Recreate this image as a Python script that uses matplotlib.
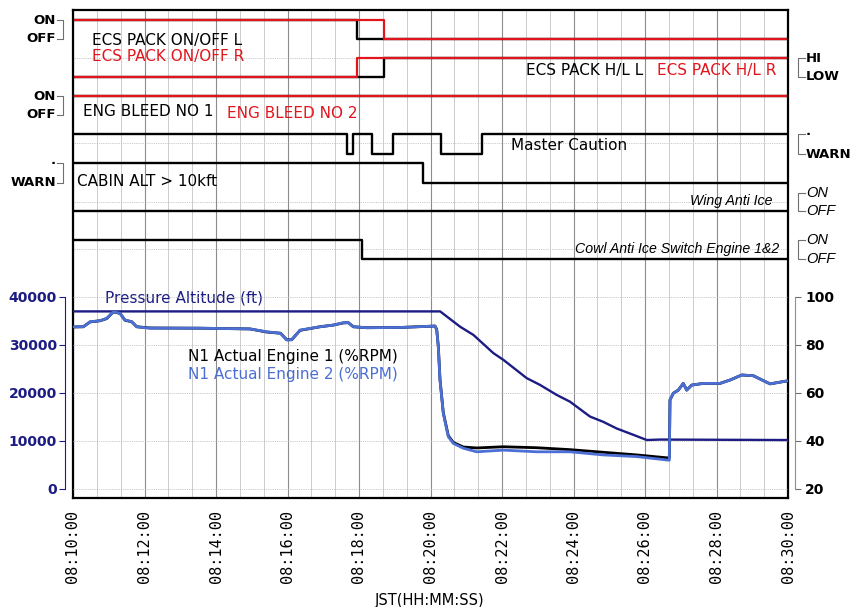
import matplotlib.pyplot as plt
from matplotlib.ticker import MultipleLocator, FuncFormatter

# x axis: minutes after 08:00 JST
t_start, t_end = 10, 30

# --- discrete signals: time of each change (min) and the state from then on
ecs_onoff_l_t = [10.0, 17.95]
ecs_onoff_l = [1, 0]
ecs_onoff_r_t = [10.0, 18.69]
ecs_onoff_r = [1, 0]
ecs_hl_l_t = [10.0, 18.70]
ecs_hl_l = [0, 1]
ecs_hl_r_t = [10.0, 17.95]
ecs_hl_r = [0, 1]
bleed_1_t = [10.0]
bleed_1 = [1]
bleed_2_t = [10.0]
bleed_2 = [1]
master_caution_t = [10.0, 17.66, 17.84, 18.36, 18.95, 20.29, 21.43]
master_caution = [0, 1, 0, 1, 0, 1, 0]
cabin_alt_t = [10.0, 19.80]
cabin_alt = [0, 1]
wing_anti_ice_t = [10.0]
wing_anti_ice = [0]
cowl_anti_ice_t = [10.0, 18.08]
cowl_anti_ice = [1, 0]

# --- pressure altitude (ft)
alt_t = [10.0, 20.27, 20.83, 21.2, 21.76, 22.04, 22.69, 23.06, 23.53, 23.90,
         24.46, 24.83, 25.21, 25.67, 26.05, 26.42, 30.0]
alt_ft = [37000, 37000, 33800, 32100, 28300, 26900, 23100, 21700, 19600, 18200,
          15100, 14000, 12600, 11300, 10200, 10300, 10200]

# --- N1 (%RPM), both engines sampled at the same times
n1_t = [10.0, 10.288, 10.476, 10.755, 10.943, 11.127, 11.315, 11.455, 11.642, 11.782,
        12.154, 13.552, 14.951, 15.418, 15.804, 15.978, 16.118, 16.350, 16.909, 17.281,
        17.561, 17.701, 17.841, 18.215, 19.147, 20.126, 20.173, 20.218, 20.266, 20.358,
        20.498, 20.638, 20.917, 21.292, 22.036, 22.970, 23.902, 24.834, 25.768, 26.607,
        26.680, 26.699, 26.792, 26.931, 27.071, 27.167, 27.306, 27.631, 28.098, 28.378,
        28.705, 29.029, 29.497, 30.0]
n1_eng2 = [87.6, 87.6, 89.7, 90.1, 91.1, 93.9, 93.2, 90.4, 89.7, 87.6,
           87.0, 87.0, 86.7, 85.5, 84.9, 82.1, 82.2, 86.2, 87.6, 88.3,
           89.3, 89.3, 87.6, 87.2, 87.3, 87.9, 86.3, 79.3, 65.4, 51.5,
           41.8, 39.0, 37.0, 35.5, 36.2, 35.5, 35.5, 34.2, 33.5, 32.1,
           32.0, 57.1, 59.9, 61.2, 64.0, 61.2, 63.3, 64.0, 64.0, 65.4,
           67.5, 67.2, 63.8, 65.1]
n1_eng1 = [87.5, 87.6, 89.6, 90.1, 91.0, 93.8, 93.2, 90.3, 89.7, 87.6,
           87.1, 87.0, 86.7, 85.4, 84.9, 82.2, 82.2, 86.1, 87.6, 88.3,
           89.2, 89.3, 87.6, 87.2, 87.3, 87.9, 86.5, 79.5, 65.6, 51.8,
           42.2, 39.4, 37.5, 37.1, 37.6, 37.2, 36.4, 35.3, 34.2, 33.0,
           33.0, 57.1, 59.9, 61.2, 64.0, 61.2, 63.3, 64.0, 64.0, 65.4,
           67.5, 67.2, 63.8, 65.1]

red = '#e3151c'
navy = '#1c1c84'
blue = '#4b6fd4'
PX = 72 / 100  # points per pixel

fig = plt.figure(figsize=(8.51, 6.07), dpi=100)
rect = [73 / 851, 1 - 498 / 607, 715 / 851, 488 / 607]

# track axes, y in screen rows (top = 10, bottom = 498)
ax = fig.add_axes(rect)
ax.set_xlim(t_start, t_end)
ax.set_ylim(498, 10)
ax.set_yticks([])
for s in ax.spines.values():
    s.set_color('black')
    s.set_linewidth(1.6)

ax.xaxis.set_major_locator(MultipleLocator(2))
ax.xaxis.set_minor_locator(MultipleLocator(2 / 3))
ax.xaxis.set_major_formatter(FuncFormatter(lambda m, p: f"08:{m:02.0f}:00"))
ax.tick_params(axis='x', which='both', length=0, pad=12 * PX)
for lab in ax.get_xticklabels():
    lab.set_rotation(90)
    lab.set_fontfamily('DejaVu Sans Mono')
    lab.set_fontsize(11)
ax.grid(which='major', axis='x', color='#8c8c8c', lw=0.8)
ax.grid(which='minor', axis='x', color='#cccccc', lw=0.7)
dots = dict(color='#b8b8b8', lw=0.6, ls=(0, (1, 1.2)))
for r in [58, 143, 202, 249]:
    ax.axhline(r, zorder=0.5, **dots)


def trace(t, s, rows, **kw):
    x = list(t) + [t_end]
    y = [rows[v] for v in s] + [rows[s[-1]]]
    ax.step(x, y, where='post', **kw)


blk = dict(color='black', lw=1.7)
rd = dict(color=red, lw=1.6)
trace(ecs_onoff_l_t, ecs_onoff_l, {1: 20, 0: 39}, **blk)
trace(ecs_onoff_r_t, ecs_onoff_r, {1: 20, 0: 39}, **rd)
trace(ecs_hl_l_t, ecs_hl_l, {1: 58, 0: 77}, **blk)
trace(ecs_hl_r_t, ecs_hl_r, {1: 58, 0: 77}, **rd)
trace(bleed_1_t, bleed_1, {1: 96, 0: 115}, **blk)
trace(bleed_2_t, bleed_2, {1: 96, 0: 115}, **rd)
trace(master_caution_t, master_caution, {0: 134, 1: 154}, **blk)
trace(cabin_alt_t, cabin_alt, {0: 163, 1: 183}, **blk)
trace(wing_anti_ice_t, wing_anti_ice, {1: 193, 0: 211}, **blk)
trace(cowl_anti_ice_t, cowl_anti_ice, {1: 240, 0: 259}, **blk)

# trace names
lbl = dict(fontsize=11, va='center', ha='left')
ax.text(10.53, 40, 'ECS PACK ON/OFF L', color='black', **lbl)
ax.text(10.53, 57, 'ECS PACK ON/OFF R', color=red, **lbl)
ax.text(22.66, 70, 'ECS PACK H/L L', color='black', **lbl)
ax.text(26.33, 70, 'ECS PACK H/L R', color=red, **lbl)
ax.text(10.28, 112, 'ENG BLEED NO 1', color='black', **lbl)
ax.text(14.31, 113, 'ENG BLEED NO 2', color=red, **lbl)
ax.text(22.25, 145, 'Master Caution', color='black', **lbl)
ax.text(10.11, 181, 'CABIN ALT > 10kft', color='black', **lbl)
ita = dict(fontsize=10.2, va='center', ha='right', style='italic',
           family='Liberation Sans')
ax.text(29.58, 201, 'Wing Anti Ice', **ita)
ax.text(29.75, 249, 'Cowl Anti Ice Switch Engine 1&2', **ita)
ax.text(10.9, 298, 'Pressure Altitude (ft)', color=navy, **lbl)
ax.text(13.22, 357, 'N1 Actual Engine 1 (%RPM)', color='black', **lbl)
ax.text(13.22, 375, 'N1 Actual Engine 2 (%RPM)', color=blue, **lbl)


def bracket(side, r1, r2, t1, t2, italic=False):
    tr = ax.get_yaxis_transform()
    if side == 'left':
        xt, x0, x1, ha = -17 / 715, -16 / 715, -10 / 715, 'right'
    else:
        xt, x0, x1, ha = 1 + 18 / 715, 1 + 17 / 715, 1 + 10 / 715, 'left'
    ax.plot([x0, x1, x1, x0], [r1, r1, r2, r2], transform=tr, clip_on=False,
            color='#707070', lw=0.8)
    if italic:
        st = dict(fontsize=10.5, style='italic', family='Liberation Sans')
    else:
        st = dict(fontsize=9.5, fontweight='bold')
    for r, t in [(r1, t1), (r2, t2)]:
        if t == '.':
            ax.text(xt, r + 1, t, transform=tr, ha=ha, va='baseline', **st)
        else:
            ax.text(xt, r, t, transform=tr, ha=ha, va='center', **st)


bracket('left', 20, 39, 'ON', 'OFF')
bracket('left', 96, 115, 'ON', 'OFF')
bracket('left', 163, 183, '.', 'WARN')
bracket('right', 58, 77, 'HI', 'LOW')
bracket('right', 134, 154, '.', 'WARN')
bracket('right', 193, 211, 'ON', 'OFF', italic=True)
bracket('right', 240, 259, 'ON', 'OFF', italic=True)

# altitude axes (left, ft)
ax_alt = fig.add_axes(rect, sharex=ax)
ax_alt.patch.set_visible(False)
ax_alt.set_ylim(-9 * 40000 / 192, 479 * 40000 / 192)
ax_alt.set_yticks(range(0, 40001, 10000))
for k in ['top', 'right', 'bottom']:
    ax_alt.spines[k].set_visible(False)
ax_alt.spines['left'].set_position(('outward', 8 * PX))
ax_alt.spines['left'].set_bounds(0, 40000)
ax_alt.spines['left'].set_color(navy)
ax_alt.tick_params(axis='x', which='both', bottom=False, labelbottom=False)
ax_alt.tick_params(axis='y', colors=navy, labelsize=10, length=6 * PX,
                   pad=2 * PX)
for lab in ax_alt.get_yticklabels():
    lab.set_fontweight('bold')
ax_alt.grid(axis='y', **dots)
ax_alt.plot(alt_t, alt_ft, color=navy, lw=1.7)

# N1 axes (right, %RPM)
n1 = ax_alt.twinx()
n1.set_ylim(20 - 9 / 2.4, 20 + 479 / 2.4)
n1.set_yticks(range(20, 101, 20))
for k in ['top', 'left', 'bottom']:
    n1.spines[k].set_visible(False)
n1.spines['right'].set_position(('outward', 7 * PX))
n1.spines['right'].set_bounds(20, 100)
n1.spines['right'].set_color('#909090')
n1.tick_params(axis='y', colors='#707070', labelcolor='black', labelsize=10,
               length=6 * PX, pad=4 * PX)
for lab in n1.get_yticklabels():
    lab.set_fontweight('bold')
n1.plot(n1_t, n1_eng1, color='black', lw=2.0)
n1.plot(n1_t, n1_eng2, color=blue, lw=2.0)

fig.text(430 / 851, 1 - 601 / 607, 'JST(HH:MM:SS)', ha='center', va='center',
         fontsize=10.5)

fig.savefig('out.png', dpi=100)
